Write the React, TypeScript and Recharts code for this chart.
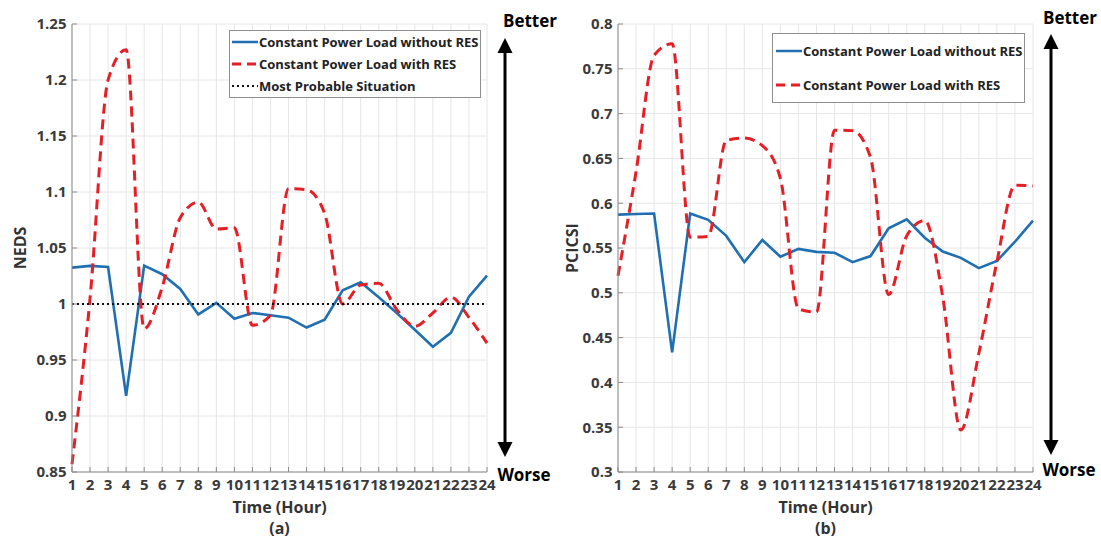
import React from 'react'
import { LineChart, Line, XAxis, YAxis, CartesianGrid, ReferenceLine, Legend } from 'recharts'

const hours = [1, 2, 3, 4, 5, 6, 7, 8, 9, 10, 11, 12, 13, 14, 15, 16, 17, 18, 19, 20, 21, 22, 23, 24]

const nedsTicks = [0.85, 0.9, 0.95, 1, 1.05, 1.1, 1.15, 1.2, 1.25]
const pcicsiTicks = [0.3, 0.35, 0.4, 0.45, 0.5, 0.55, 0.6, 0.65, 0.7, 0.75, 0.8]

// (a) NEDS
const nedsWithoutRes = [1.0325, 1.034, 1.033, 0.918, 1.0343, 1.0266, 1.0134, 0.9907, 1.001, 0.9869, 0.992, 0.99,
  0.9878, 0.979, 0.986, 1.0122, 1.0194, 1.006, 0.992, 0.977, 0.9618, 0.9743, 1.0066, 1.0254]
const nedsWithRes = [0.857, 1.005, 1.2, 1.227, 0.978, 1.015, 1.077, 1.091, 1.067, 1.068, 0.981, 0.99,
  1.103, 1.102, 1.081, 1.0, 1.017, 1.0185, 0.995, 0.98, 0.992, 1.006, 0.988, 0.965]
const mostProbable = 1

// (b) PCICSI
const pcicsiWithoutRes = [0.5873, 0.588, 0.5885, 0.4335, 0.5885, 0.5815, 0.5635, 0.5342, 0.559, 0.5402, 0.549, 0.5457,
  0.5447, 0.5342, 0.541, 0.572, 0.582, 0.5615, 0.546, 0.539, 0.5275, 0.5355, 0.557, 0.5805]
const pcicsiWithRes = [0.519, 0.635, 0.765, 0.778, 0.562, 0.563, 0.67, 0.6727, 0.6642, 0.6277, 0.4821, 0.4784,
  0.6815, 0.681, 0.6508, 0.498, 0.5635, 0.5808, 0.495, 0.347, 0.4325, 0.5346, 0.62, 0.6192]

const FONT = '"Open Sans", "DejaVu Sans", sans-serif'
const BLUE = '#1f6fb1'
const RED = '#e41f26'
const AXIS = '#8a8a8a'
const GRID = '#e6e6e6'
const TICK = { fontSize: 15, fontWeight: 700, fill: '#3a3a3a', fontFamily: FONT }

type Item = { label: string; color: string; dash?: string; width: number }

const itemsA: Item[] = [
  { label: 'Constant Power Load without RES', color: BLUE, width: 2.5 },
  { label: 'Constant Power Load with RES', color: RED, dash: '9 6', width: 3 },
  { label: 'Most Probable Situation', color: '#111', dash: '2 3', width: 2 },
]
const itemsB: Item[] = itemsA.slice(0, 2)

function LegendBox({ items, rowH, padL }: { items: Item[]; rowH: number; padL: number }) {
  return (
    <div style={{ border: '1px solid #8f8f8f', background: '#fff', boxSizing: 'border-box', fontFamily: FONT,
      fontSize: 13, fontWeight: 700, color: '#222', paddingLeft: padL }}>
      {items.map((it) => (
        <div key={it.label} style={{ display: 'flex', alignItems: 'center', height: rowH, whiteSpace: 'nowrap' }}>
          <svg width={26} height={10} style={{ marginRight: 1 }}>
            <line x1={0} y1={5} x2={26} y2={5} stroke={it.color} strokeWidth={it.width} strokeDasharray={it.dash} />
          </svg>
          <span>{it.label}</span>
        </div>
      ))}
    </div>
  )
}

type PanelProps = {
  left: number
  width: number
  marginLeft: number
  marginRight: number
  yAxisW: number
  yTicks: number[]
  yTitle: string
  yTitleX: number
  blue: number[]
  red: number[]
  items: Item[]
  legend: { left: number; top: number; width: number; rowH: number; padL: number }
  refY?: number
}

function Panel(p: PanelProps) {
  const data = hours.map((h, i) => ({ hour: h, without: p.blue[i], withRes: p.red[i] }))
  const domain: [number, number] = [p.yTicks[0], p.yTicks[p.yTicks.length - 1]]
  return (
    <div style={{ position: 'absolute', left: p.left, top: 0 }}>
      <LineChart width={p.width} height={540} data={data}
        margin={{ top: 24, right: p.marginRight, bottom: 18, left: p.marginLeft }}>
        <CartesianGrid stroke={GRID} strokeWidth={1} />
        <XAxis dataKey="hour" type="number" domain={[1, 24]} ticks={hours} interval={0} height={50}
          tick={TICK} tickSize={-5} tickMargin={12} tickLine={{ stroke: AXIS }} axisLine={{ stroke: AXIS }}
          label={(lp: any) => {
            const vb = lp.viewBox || { x: 0, y: 0, width: 0 }
            return (
              <text x={vb.x + vb.width / 2} y={vb.y + 41} textAnchor="middle" fontFamily={FONT}
                fontSize={16} fontWeight={700} fill="#333">Time (Hour)</text>
            )
          }} />
        <XAxis xAxisId="top" orientation="top" dataKey="hour" type="number" domain={[1, 24]} ticks={hours}
          interval={0} height={0} tick={false} mirror tickSize={5} tickLine={{ stroke: AXIS }} axisLine={{ stroke: AXIS }} />
        <YAxis type="number" domain={domain} ticks={p.yTicks} interval={0} width={p.yAxisW}
          tick={TICK} tickSize={-5} tickMargin={10.5} tickLine={{ stroke: AXIS }} axisLine={{ stroke: AXIS }}
          label={(lp: any) => {
            const vb = lp.viewBox || { x: 0, y: 0, height: 0 }
            const cy = vb.y + vb.height / 2
            return (
              <text x={p.yTitleX} y={cy} transform={`rotate(-90, ${p.yTitleX}, ${cy})`} textAnchor="middle"
                dominantBaseline="central" fontFamily={FONT} fontSize={16} fontWeight={700} fill="#333">{p.yTitle}</text>
            )
          }} />
        <YAxis yAxisId="right" orientation="right" type="number" domain={domain} ticks={p.yTicks} interval={0}
          width={0} tick={false} mirror tickSize={5} tickLine={{ stroke: AXIS }} axisLine={{ stroke: AXIS }} />
        <Line type="linear" dataKey="without" stroke={BLUE} strokeWidth={2.6} dot={false} isAnimationActive={false} />
        <Line type="monotone" dataKey="withRes" stroke={RED} strokeWidth={3} strokeDasharray="10 6" dot={false}
          isAnimationActive={false} />
        {p.refY !== undefined && (
          <ReferenceLine y={p.refY} stroke="#111" strokeWidth={2} strokeDasharray="2 3" />
        )}
        <Legend layout="vertical" align="center" verticalAlign="middle"
          wrapperStyle={{ left: p.legend.left, top: p.legend.top, width: p.legend.width, height: 'auto' }}
          content={() => <LegendBox items={p.items} rowH={p.legend.rowH} padL={p.legend.padL} />} />
      </LineChart>
    </div>
  )
}

function Arrow({ x, top, bottom }: { x: number; top: number; bottom: number }) {
  return (
    <g>
      <line x1={x} y1={top + 12} x2={x} y2={bottom - 12} stroke="#000" strokeWidth={3} />
      <polygon points={`${x},${top} ${x - 7.5},${top + 15} ${x + 7.5},${top + 15}`} fill="#000" />
      <polygon points={`${x},${bottom} ${x - 7.5},${bottom - 15} ${x + 7.5},${bottom - 15}`} fill="#000" />
    </g>
  )
}

export default function App() {
  const note = { fontFamily: FONT, fontSize: 17, fontWeight: 700, fill: '#000', textAnchor: 'middle' as const,
    dominantBaseline: 'central' as const }
  const sub = { fontFamily: FONT, fontSize: 16, fontWeight: 700, fill: '#333', textAnchor: 'middle' as const,
    dominantBaseline: 'central' as const }
  return (
    <div style={{ position: 'absolute', left: 0, top: 0, width: 1101, height: 540, background: '#fff', overflow: 'hidden' }}>
      <Panel left={0} width={560} marginLeft={12} marginRight={73} yAxisW={60} yTicks={nedsTicks}
        yTitle="NEDS" yTitleX={20} blue={nedsWithoutRes} red={nedsWithRes} items={itemsA}
        legend={{ left: 229, top: 30, width: 252, rowH: 22, padL: 2 }} refY={mostProbable} />
      <Panel left={560} width={541} marginLeft={8} marginRight={68} yAxisW={50} yTicks={pcicsiTicks}
        yTitle="PCICSI" yTitleX={12} blue={pcicsiWithoutRes} red={pcicsiWithRes} items={itemsB}
        legend={{ left: 212, top: 33, width: 253, rowH: 34, padL: 3 }} />
      <svg width={1101} height={540} style={{ position: 'absolute', left: 0, top: 0, pointerEvents: 'none' }}>
        <Arrow x={505} top={38} bottom={457} />
        <Arrow x={1051} top={34} bottom={455} />
        <text x={530} y={20} {...note}>Better</text>
        <text x={524} y={474} {...note}>Worse</text>
        <text x={1070} y={17} {...note}>Better</text>
        <text x={1069} y={469} {...note}>Worse</text>
        <text x={279.5} y={528} {...sub}>(a)</text>
        <text x={825.5} y={528} {...sub}>(b)</text>
      </svg>
    </div>
  )
}
